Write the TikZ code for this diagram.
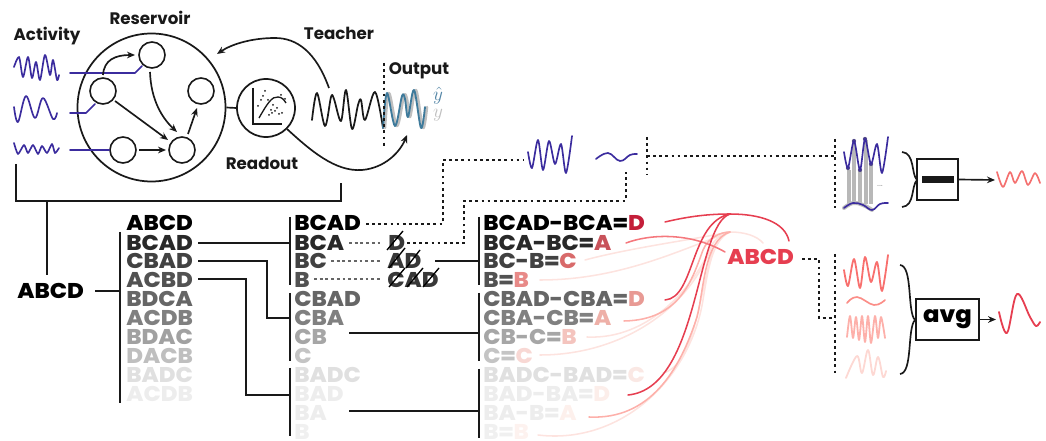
\documentclass[tikz,border=0pt]{standalone}
\usepackage{fontspec}
\usepackage{xcolor}
\usetikzlibrary{arrows.meta,calc}
\setmainfont{Poppins}
\newfontfamily\blk[FakeStretch=1.07]{Poppins}[BoldFont={Poppins ExtraBold}]
\definecolor{pur}{HTML}{3B2C9E}
\definecolor{rd}{HTML}{E63E50}
\newcommand{\wavebig}{(844,152) (848,168) (854,141) (860,170) (865,139) (871,164) (877,144) (882,173) (888,137)}
\tikzset{
 lbl/.style={inner sep=0,font=\bfseries\fontsize{12.5}{13}\selectfont,text=black!90},
 bk/.style={inner sep=0,anchor=west,font=\blk\bfseries\fontsize{16}{16}\selectfont},
 smc/.style={circle,draw=black!90,line width=1.2pt,minimum size=19.5pt,inner sep=0},
 ln/.style={line width=1.25pt,draw=black!90},
 arr/.style={ln,-{Stealth[length=6pt,width=5pt]}},
 dot/.style={line width=1.35pt,draw=black!90,dash pattern=on 2.1pt off 2.5pt},
 dotg/.style={line width=1.1pt,draw=black!60,dash pattern=on 2.1pt off 2.2pt},
 wv/.style={line width=1.25pt,line join=round,line cap=round},
 pl/.style={wv,draw=pur},
 cv/.style={line width=1.15pt,line cap=round},
 bar/.style={line width=1.4pt,draw=black!90},
 strike/.style={line width=1pt,draw=black},
}
\begin{document}
\begin{tikzpicture}[x=.75pt,y=-.75pt]
\useasboundingbox (0,0) rectangle (1046,441);
% labels
\node[lbl] (lAct) at (47,36) {Activity};
\node[lbl] (lRes) at (150,18) {Reservoir};
\node[lbl] (lTea) at (339,33) {Teacher};
\node[lbl] (lOut) at (419,71) {Output};
\node[lbl] (lRea) at (262,163) {Readout};
% activity waves
\draw[pl] plot[smooth,tension=.5] coordinates {(14,67) (19,57) (23,77) (28,57) (32,78) (36,62) (40,80) (45,55) (50,75) (53,60) (57,80) (59,75)};
\draw[pl] plot[smooth,tension=.6] coordinates {(14,107) (18,122) (26,96) (35,118) (43,98) (53,119) (57,113)};
\draw[pl] plot[smooth,tension=.4] coordinates {(14,143) (18,154) (24,145) (28,153) (33,145) (38,154) (42,146) (47,153) (52,144) (55,153) (59,148)};
% reservoir
\node[circle,draw=black!90,line width=1.3pt,minimum size=111pt,inner sep=0] (res) at (151.5,107.5) {};
\node[smc] (n1) at (152,55) {};
\node[smc] (n2) at (103,91) {};
\node[smc] (n3) at (201,91) {};
\node[smc] (n4) at (123,150) {};
\node[smc] (n5) at (182,150) {};
\coordinate (i1) at (70,73); \coordinate (i2) at (70,113); \coordinate (i3) at (70,150);
\draw[wv,draw=pur] (i1) -- (135,73) -- (142,66);
\draw[wv,draw=pur] (i2) -- (86,113) -- (95,104);
\draw[wv,draw=pur] (i3) -- (n4.west);
\draw[arr] (103,75) .. controls (104,60) and (115,55) .. (135,55);
\draw[arr] (150,72) .. controls (151,100) and (162,118) .. (177,132);
\draw[arr] (115,101) -- (168,140);
\draw[arr] (139,150) -- (166,150);
\draw[arr] (188,134) -- (197,108);
% readout
\node[circle,draw=black!90,line width=1.3pt,minimum size=43.5pt,inner sep=0] (rd) at (266,108) {};
\draw[ln] (res.east) -- (rd.west);
\draw[line width=1pt,draw=black!90] (253,88) -- (253,124) -- (282,124);
\draw[line width=1pt,draw=black!90] (259,118) .. controls (267,104) and (272,96) .. (278,97) .. controls (282,97) and (284,100) .. (286,103);
\foreach \a/\b in {258/106,261/100,263/96,265/91,268/100,271/110,273/105,275/111,277/108,279/114,282/113,285/99,281/95,272/113,269/115}
  \fill[black!90] (\a,\b) circle (.75pt);
% teacher
\coordinate (tst) at (329,88);
\draw[arr] (tst) .. controls (316,52) and (297,38) .. (275,38) .. controls (252,38) and (232,44) .. (217,54);
\draw[arr] (rd.south east) .. controls (310,150) and (335,172) .. (362,170) .. controls (385,168) and (400,152) .. (407,135);
\draw[wv,draw=black!90,line width=1.3pt] plot[smooth,tension=.55] coordinates {(312,120) (317,93) (325,126) (331,97) (334,99) (341,121) (346,90) (352,129) (358,105) (361,100) (365,120) (375,92) (383,128)};
\draw[wv,draw=black!25,line width=1.9pt,shift={(2,0)}] plot[smooth,tension=.55] coordinates {(383,128) (387,93) (395,126) (402,96) (405,99) (408,117) (414,90) (421,128) (425,107)};
\draw[wv,draw={rgb,255:red,62;green,122;blue,155},line width=1.4pt] plot[smooth,tension=.55] coordinates {(383,128) (387,93) (395,126) (402,96) (405,99) (408,117) (414,90) (421,128) (425,107)};
\coordinate (v1a) at (384,63); \coordinate (v1b) at (384,147);
\draw[dot] (v1a) -- (v1b);
\node[inner sep=0,text={rgb,255:red,82;green,132;blue,165},font=\fontsize{14}{14}\selectfont] (yh) at (438,96) {$\hat y$};
\node[inner sep=0,text=black!25,font=\fontsize{14}{14}\selectfont] (yy) at (438,115) {$y$};
% bracket
\coordinate (b1) at (16,164); \coordinate (b2) at (341,183);
\draw[ln] (b1) -- (16,201) -- (341,201) -- (b2);
\node[bk] (A0) at (17,291) {ABCD};
\draw[ln] (47,201) -- (47,275);
\coordinate (cb) at (120,291);
\draw[ln] (95,291) -- (cb);
\draw[bar] (120,232) -- (120,403);
% list 1
\foreach \n/\y/\t/\c in {a0/223/ABCD/black,a1/242.5/BCAD/black!84,a2/261/CBAD/black!74,a3/280/ACBD/black!68,a4/299/BDCA/black!60,a5/318/ACDB/black!50,a6/337/BDAC/black!37,a7/356/DACB/black!25,a8/375/BADC/black!12,a9/394/ACDB/black!7}
  \node[bk,text=\c] (\n) at (126,\y) {\t};
% col 2 bars
\draw[bar] (290,217) -- (290,285);
\draw[bar] (290,293) -- (290,361);
\draw[bar] (290,368) -- (290,436);
\draw[ln] (198,243) -- (290,243);
\draw[ln] (198,261) -- (267,261) -- (267,318) -- (290,318);
\draw[ln] (198,279) -- (246,279) -- (246,395) -- (290,395);
% col 2
\foreach \n/\y/\t/\c in {b0/223/BCAD/black,b1/242.5/BCA/black!84,b2/261/BC/black!74,b3/280/B/black!68,b4/299/CBAD/black!60,b5/318/CBA/black!50,b6/337/CB/black!35,b7/356/C/black!23,b8/375/BADC/black!12,b9/394/BAD/black!7,b10/413/BA/black!7,b11/431.5/B/black!6}
  \node[bk,text=\c] (\n) at (294,\y) {\t};
% strikes
\node[bk,text=black!78] (s1) at (388,242.5) {D};
\node[bk,text=black!78] (s2) at (387,261) {AD};
\node[bk,text=black!78] (s3) at (387,280) {CAD};
\draw[strike] (387,250) -- (403,231);
\draw[strike] (389,268) -- (405,248);
\draw[strike] (406,268) -- (420,250);
\draw[strike] (389,287) -- (405,268);
\draw[strike] (407,287) -- (423,268);
\draw[strike] (423,287) -- (439,268);
\draw[dot] (366,224) -- (443,224) -- (443,160) -- (523,160);
\draw[dot] (407,243) -- (464,243) -- (464,201) -- (626,201) -- (626,172);
\draw[dotg] (349,243) -- (380,243);
\draw[dotg] (331,261) -- (380,261);
\draw[dotg] (314,279) -- (380,279);
\draw[ln] (435,261) -- (479,261);
\draw[ln] (349,333) -- (479,333);
\draw[ln] (349,411) -- (479,411);
\draw[bar] (479,217) -- (479,285);
\draw[bar] (479,293) -- (479,361);
\draw[bar] (479,369) -- (479,438);
% col 3
\foreach \n/\y/\t/\u/\c/\d in {c0/223/BCAD-BCA=/D/black/{rgb,255:red,196;green,30;blue,58},c1/242.5/BCA-BC=/A/black!84/{rgb,255:red,200;green,82;blue,90},c2/261/BC-B=/C/black!74/{rgb,255:red,216;green,106;blue,106},c3/280/B=/B/black!68/{rgb,255:red,232;green,138;blue,136},c4/299/CBAD-CBA=/D/black!60/{rgb,255:red,232;green,154;blue,148},c5/318/CBA-CB=/A/black!50/{rgb,255:red,238;green,176;blue,168},c6/337/CB-C=/B/black!35/{rgb,255:red,244;green,196;blue,190},c7/356/C=/C/black!23/{rgb,255:red,248;green,216;blue,212},c8/375/BADC-BAD=/C/black!12/{rgb,255:red,250;green,232;blue,228},c9/394/BAD-BA=/D/black!7/{rgb,255:red,252;green,238;blue,234},c10/413/BA-B=/A/black!7/{rgb,255:red,253;green,240;blue,236},c11/431.5/B=/B/black!6/{rgb,255:red,253;green,242;blue,239}}
  \node[bk,text=\c] (\n) at (483,\y) {\t{\color\d\u}};
% red curves
\definecolor{rlight}{HTML}{FDE3DF}
\definecolor{rmid}{HTML}{FDB0AA}
\draw[cv,draw=rlight] (585,260) .. controls (630,248) and (690,240) .. (730,232) .. controls (745,232) and (757,236) .. (763,243);
\draw[cv,draw=rlight] (540,280) .. controls (620,280) and (680,250) .. (730,232);
\draw[cv,draw=rlight] (587,337) .. controls (650,340) and (695,285) .. (712,245) .. controls (716,238) and (722,234) .. (730,232);
\draw[cv,draw=rlight] (540,355) .. controls (620,355) and (690,310) .. (713,243);
\draw[cv,draw=rlight] (663,373) .. controls (695,365) and (700,290) .. (713,250);
\draw[cv,draw=rlight] (538,435) .. controls (620,445) and (690,380) .. (703,300) .. controls (708,270) and (712,240) .. (730,232);
\draw[cv,draw=rmid] (624,321) .. controls (680,320) and (692,280) .. (703,250) .. controls (708,238) and (720,232) .. (730,232);
\draw[cv,draw=rmid] (589,417) .. controls (650,420) and (680,370) .. (697,317) .. controls (704,290) and (704,240) .. (730,232);
\draw[cv,draw={rgb,255:red,245;green,120;blue,125}] (626,243) .. controls (650,234) and (690,232) .. (725,252);
\draw[cv,draw=rd] (665,222) .. controls (690,216) and (710,214) .. (730,214) .. controls (760,214) and (785,222) .. (789,241);
\draw[cv,draw=rd] (665,300) .. controls (695,298) and (690,222) .. (730,214);
\draw[cv,draw=rd] (628,395) .. controls (700,388) and (695,225) .. (730,214);
\node[bk,text=rd] (abcd) at (727,257) {ABCD};
% top mid waves
\draw[pl] plot[smooth,tension=.5] coordinates {(528,152) (532,168) (538,140) (543,170) (549,141) (555,164) (561,144) (566,173) (572,136)};
\draw[pl] plot[smooth,tension=.7] coordinates {(596,159) (608,153) (620,161) (630,155) (637,154)};
% dotted
\draw[dot] (647,137) -- (647,175);
\draw[dot] (647,156) -- (835,156);
\draw[dot] (835,139) -- (835,208);
\draw[dot] (835,254) -- (835,375);
\draw[dot] (802,259) -- (819,259) -- (819,318) -- (835,318);
% upper panel
\foreach \x/\y in {849/170,854/142,860/170,866/140,871/164}
 \draw[line width=2.6pt,draw=black!28] (\x,\y) -- (\x,204);
\foreach \x/\y in {848/168,854/141,860/170,865/139,871/164}
 \fill[pur!70!black!80] (\x,\y) circle (1.6pt);
\draw[pl] plot[smooth,tension=.5] coordinates {\wavebig};
\draw[line width=3pt,draw=black!25,line cap=round] plot[smooth,tension=.7] coordinates {(844,208) (853,203) (863,205) (872,210)};
\draw[pl] plot[smooth,tension=.7] coordinates {(844,208) (853,203) (863,205) (872,210) (880,204) (888,203)};
\node[inner sep=0,text=black!35,font=\fontsize{7}{7}\selectfont] (ell) at (880,186) {...};
% lower panel
\begin{scope}[yshift={-88.5pt}]
\draw[wv,draw={rgb,255:red,248;green,112;blue,110},line width=1.35pt] plot[smooth,tension=.5] coordinates {\wavebig};
\end{scope}
\draw[wv,draw={rgb,255:red,251;green,142;blue,136},line width=1.25pt] plot[smooth,tension=.7] coordinates {(847,303) (857,297) (874,305) (885,300)};
\draw[wv,draw=rmid,line width=1.35pt] plot[smooth,tension=.5] coordinates {(847,337) (850,316) (853,338) (856,317) (859,340) (862,316) (865,342) (868,316) (871,343) (875,316) (878,338) (881,317) (885,338)};
\draw[wv,draw={rgb,255:red,253;green,216;blue,211},line width=1.35pt] plot[smooth,tension=.6] coordinates {(846,378) (857,356) (862,373) (868,350) (873,375) (878,357) (883,377) (886,371)};
% braces
\coordinate (bt1) at (917,180);
\draw[ln] (902,152) .. controls (915,153) and (911,174) .. (bt1) .. controls (911,186) and (915,206) .. (902,207);
\coordinate (bt2) at (915,320);
\draw[ln] (900,265) .. controls (913,266) and (907,312) .. (bt2) .. controls (907,328) and (913,373) .. (900,374);
% boxes
\node[draw=black!90,line width=1.3pt,minimum width=30.7pt,minimum height=30.7pt,inner sep=0] (box1) at (937.5,179.5) {};
\fill[black!90] (922,176) rectangle (954,183);
\node[draw=black!90,line width=1.3pt,minimum width=47pt,minimum height=30.7pt,inner sep=0,font=\blk\bfseries\fontsize{17}{17}\selectfont] (box2) at (947.5,319.5) {avg};
\coordinate (o1) at (995,180); \coordinate (o2) at (996,319.5);
\draw[arr] (box1.east) -- (o1);
\draw[arr] (box2.east) -- (o2);
\draw[wv,draw={rgb,255:red,244;green,112;blue,111}] plot[smooth,tension=.5] coordinates {(997,172) (1003,187) (1010,172) (1015,183) (1022,171) (1028,185) (1035,173) (1040,183)};
\draw[wv,draw=rd,line width=1.35pt] plot[smooth,tension=.6] coordinates {(999,312) (1007,333) (1017,294) (1030,317) (1036,326) (1040,322)};
\end{tikzpicture}
\end{document}
